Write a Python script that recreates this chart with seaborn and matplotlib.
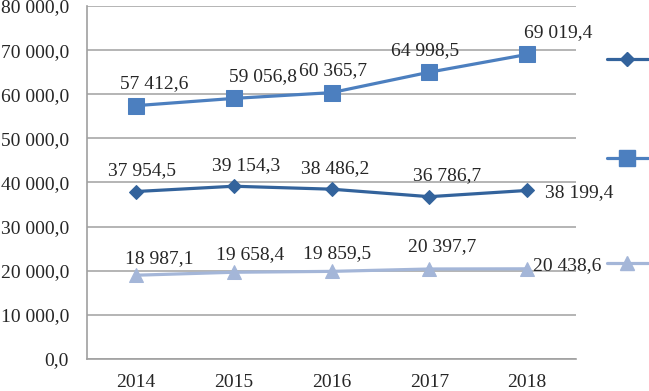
import numpy as np
import pandas as pd
import seaborn as sns
import matplotlib
import matplotlib.pyplot as plt
from matplotlib.lines import Line2D
from matplotlib.ticker import FuncFormatter
matplotlib.use('Agg')

years = ['2014', '2015', '2016', '2017', '2018']
series_names = ['Series 1', 'Series 2', 'Series 3']
values_1 = [37954.5, 39154.3, 38486.2, 36786.7, 38199.4]
values_2 = [57412.6, 59056.8, 60365.7, 64998.5, 69019.4]
values_3 = [18987.1, 19658.4, 19859.5, 20397.7, 20438.6]

sns.set_style("white")
plt.rcParams['font.family'] = ['Liberation Serif', 'DejaVu Serif']

def fmt(v, pos=None):
    s = '{:,.1f}'.format(v)
    return s.replace(',', ' ').replace('.', ',')

df = pd.DataFrame({
    'x': list(range(len(years))) * 3,
    'value': values_1 + values_2 + values_3,
    'series': [n for n in series_names for _ in years],
})

colors = {'Series 1': '#33639c', 'Series 2': '#4c7fbf', 'Series 3': '#a4b6d8'}
markers = {'Series 1': 'D', 'Series 2': 's', 'Series 3': '^'}
msizes = {'Series 1': 7.5, 'Series 2': 11, 'Series 3': 10}

fig = plt.figure(figsize=(6.49, 3.91), dpi=100)
ax = fig.add_axes([87 / 649, 1 - 359 / 391, (576 - 87) / 649, (359 - 6) / 391])

for name in series_names:
    sub = df[df['series'] == name]
    sns.lineplot(data=sub, x='x', y='value', ax=ax, color=colors[name],
                 marker=markers[name], markersize=msizes[name],
                 markeredgecolor=colors[name], linewidth=2.3, legend=False)

ax.set_xlim(-0.5, len(years) - 0.5)
ax.set_ylim(0, 80000)
ax.set_yticks(np.arange(0, 80001, 10000))
ax.yaxis.set_major_formatter(FuncFormatter(fmt))
ax.set_xticks(range(len(years)))
ax.set_xticklabels(years)
ax.set_xticks(np.arange(-0.5, len(years), 1.0), minor=True)
ax.tick_params(axis='x', which='major', length=0, pad=10.5, labelsize=14)
ax.tick_params(axis='x', which='minor', length=5, width=1.2, color='#a0a0a0', direction='out')
ax.tick_params(axis='y', length=0, pad=13, labelsize=14)
ax.set_xlabel('')
ax.set_ylabel('')
ax.grid(axis='y', color='#a0a0a0', linewidth=1.1)
ax.grid(axis='x', visible=False)
ax.set_axisbelow(True)
for side in ['top', 'right']:
    ax.spines[side].set_visible(False)
for side in ['left', 'bottom']:
    ax.spines[side].set_color('#a0a0a0')
    ax.spines[side].set_linewidth(1.2)

# data labels: offsets in pixels (dx, dy) and horizontal alignment
offsets_1 = [(6, 21, 'center'), (12, 21, 'center'), (4, 21, 'center'), (18, 21, 'center'), (18, -2, 'left')]
offsets_2 = [(18, 22, 'center'), (29, 22, 'center'), (2, 22, 'center'), (-4, 22, 'center'), (31, 22, 'center')]
offsets_3 = [(23, 17, 'center'), (16, 18, 'center'), (6, 18, 'center'), (13, 22, 'center'), (6, 3, 'left')]
for vals, offs in [(values_1, offsets_1), (values_2, offsets_2), (values_3, offsets_3)]:
    for i, (v, (dx, dy, ha)) in enumerate(zip(vals, offs)):
        ax.annotate(fmt(v), (i, v), xytext=(dx * 0.72, dy * 0.72), textcoords='offset points',
                    ha=ha, va='center', fontsize=14)

# legend entries (labels cut off at the right edge)
legend_y = [61, 160, 265]
for name, yy in zip(series_names, legend_y):
    h = Line2D([], [], color=colors[name], marker=markers[name], markersize=msizes[name],
               markeredgecolor=colors[name], linewidth=2.3)
    fig.legend([h], [''], loc='center left', bbox_to_anchor=(607 / 649, 1 - yy / 391),
               frameon=False, borderpad=0, borderaxespad=0, handlelength=2.1,
               handletextpad=0.2, fontsize=14)

fig.savefig('out.png', dpi=100)
